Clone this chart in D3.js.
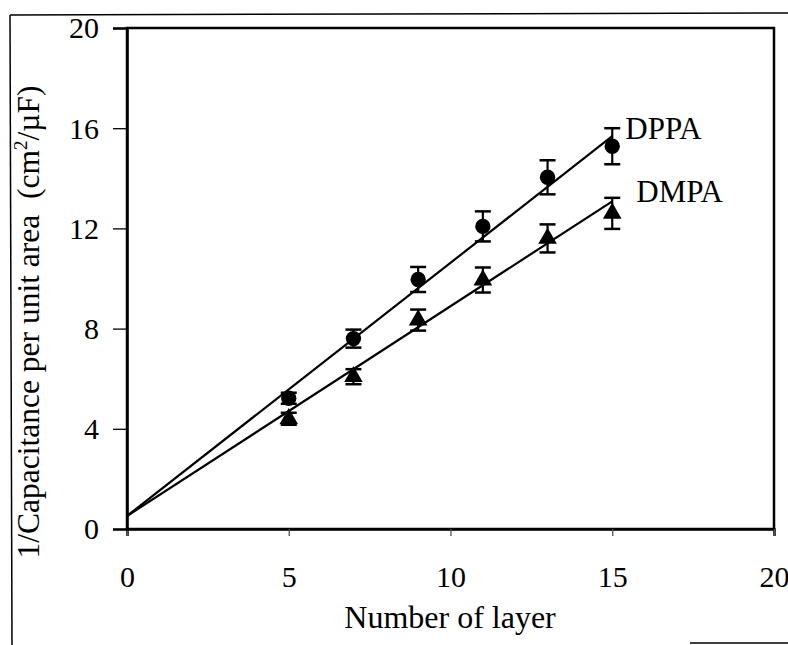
<!DOCTYPE html>
<html><head><meta charset="utf-8">
<script src="https://cdn.jsdelivr.net/npm/d3@7/dist/d3.min.js"></script>
<style>html,body{margin:0;padding:0;background:#fff}svg{display:block}</style>
</head><body>
<svg id="chart" width="788" height="645"></svg>
<script>
// ---- data ----
const layers = [5, 7, 9, 11, 13, 15];
const dppaValues = [5.22, 7.6, 9.96, 12.08, 14.04, 15.28];
const dppaErrors = [0.22, 0.36, 0.5, 0.6, 0.68, 0.72];
const dmpaValues = [4.4, 6.08, 8.34, 9.94, 11.6, 12.6];
const dmpaErrors = [0.24, 0.3, 0.42, 0.5, 0.56, 0.62];
const fitIntercepts = [0.52, 0.52];      // DPPA, DMPA at 0 layers
const fitEnds = [15.68, 13.08];          // DPPA, DMPA at 15 layers
const seriesNames = ["DPPA", "DMPA"];
const xTicks = [0, 5, 10, 15, 20];
const yTicks = [0, 4, 8, 12, 16, 20];
const xLabel = "Number of layer";

const svg = d3.select("#chart");
const FONT = "'Liberation Serif', 'Times New Roman', serif";
const m = {left: 127, right: 774, top: 28, bottom: 529};
const x = d3.scaleLinear().domain([0, 20]).range([m.left, m.right]);
const y = d3.scaleLinear().domain([0, 20]).range([m.bottom, m.top]);

// outer figure frame (partial, as in scan)
svg.append("line").attr("x1", 10).attr("x2", 788).attr("y1", 15).attr("y2", 13).attr("stroke", "#000").attr("stroke-width", 1.5);
svg.append("line").attr("x1", 10).attr("x2", 12).attr("y1", 15).attr("y2", 645).attr("stroke", "#000").attr("stroke-width", 1.5);
svg.append("line").attr("x1", 690).attr("x2", 788).attr("y1", 643).attr("y2", 643).attr("stroke", "#000").attr("stroke-width", 1.5);

// plot box
svg.append("rect").attr("x", m.left).attr("y", m.top).attr("width", m.right - m.left).attr("height", m.bottom - m.top)
  .attr("fill", "none").attr("stroke", "#000").attr("stroke-width", 2.5);

// axes
const xAxis = svg.append("g").attr("transform", `translate(0,${m.bottom})`)
  .call(d3.axisBottom(x).tickValues(xTicks).tickSize(7).tickPadding(30).tickFormat(d3.format("d")));
const yAxis = svg.append("g").attr("transform", `translate(${m.left},0)`)
  .call(d3.axisLeft(y).tickValues(yTicks).tickSize(14).tickPadding(14).tickFormat(d3.format("d")));
[xAxis, yAxis].forEach(g => {
  g.select(".domain").attr("stroke-width", 2.5);
  g.selectAll(".tick line").attr("stroke-width", 1.3);
  g.selectAll("text").attr("font-family", FONT).attr("font-size", 30).attr("fill", "#000");
});
xAxis.selectAll(".tick line").attr("stroke", "#555");
yAxis.selectAll(".tick text").attr("dy", "0.33em");

// fit lines
const fitLine = d3.line().x(d => x(d[0])).y(d => y(d[1]));
fitIntercepts.forEach((b, i) => {
  svg.append("path").datum([[0, b], [15, fitEnds[i]]]).attr("d", fitLine)
    .attr("fill", "none").attr("stroke", "#000").attr("stroke-width", 2.2);
});

// error bars + markers
function drawSeries(vals, errs, shape) {
  const g = svg.append("g");
  const pts = layers.map((l, i) => ({x: l, y: vals[i], e: errs[i]}));
  const eb = g.selectAll(".eb").data(pts).enter().append("g");
  eb.append("line").attr("x1", d => x(d.x)).attr("x2", d => x(d.x))
    .attr("y1", d => y(d.y - d.e)).attr("y2", d => y(d.y + d.e)).attr("stroke", "#000").attr("stroke-width", 2.2);
  [-1, 1].forEach(s => {
    eb.append("line").attr("x1", d => x(d.x) - 8).attr("x2", d => x(d.x) + 8)
      .attr("y1", d => y(d.y + s * d.e)).attr("y2", d => y(d.y + s * d.e)).attr("stroke", "#000").attr("stroke-width", 2.5);
  });
  const sym = d3.symbol().type(shape).size(shape === d3.symbolCircle ? 185 : 150);
  g.selectAll(".mk").data(pts).enter().append("path")
    .attr("d", sym).attr("transform", d => `translate(${x(d.x)},${y(d.y)})`).attr("fill", "#000");
}
drawSeries(dppaValues, dppaErrors, d3.symbolCircle);
drawSeries(dmpaValues, dmpaErrors, d3.symbolTriangle);

// series labels
svg.append("text").attr("x", x(15) + 13).attr("y", y(fitEnds[0]) + 3).text(seriesNames[0])
  .attr("font-family", FONT).attr("font-size", 31);
svg.append("text").attr("x", x(15) + 24).attr("y", y(fitEnds[1]) + 1).text(seriesNames[1])
  .attr("font-family", FONT).attr("font-size", 31);

// axis titles
svg.append("text").attr("x", 450).attr("y", 628).attr("text-anchor", "middle")
  .attr("font-family", FONT).attr("font-size", 32).text(xLabel);
const yt = svg.append("text").attr("transform", "translate(39,322) rotate(-90)").attr("text-anchor", "middle")
  .attr("font-family", FONT).attr("font-size", 31.5);
yt.append("tspan").text("1/Capacitance per unit area\u00a0 (cm");
yt.append("tspan").attr("font-size", 19).attr("dy", -12).text("2");
yt.append("tspan").attr("dy", 12).text("/\u00b5F)");
</script>
</body></html>
